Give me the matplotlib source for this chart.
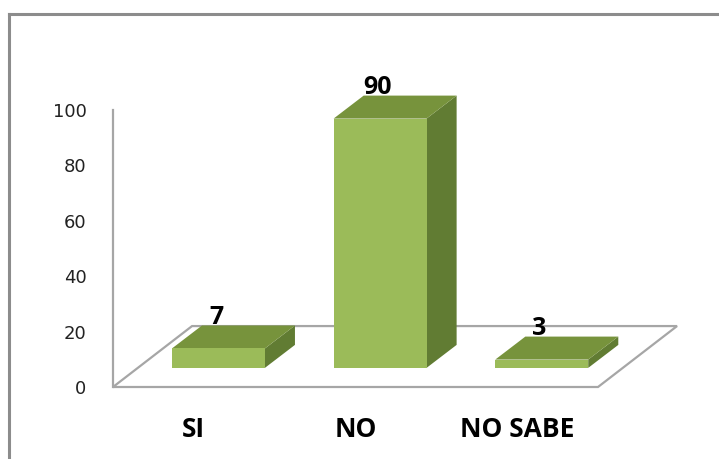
import matplotlib
matplotlib.use("Agg")
import matplotlib.pyplot as plt
from matplotlib.patches import Polygon, Rectangle
from matplotlib.lines import Line2D
import numpy as np

# --- data ---
categories = ["SI", "NO", "NO SABE"]
values = [7, 90, 3]
yticks = [0, 20, 40, 60, 80, 100]

# --- fake 3d look (offsets in data units) ---
bar_w = 0.575
front_dx, front_dy = 0.152, 6.9     # bar front face sits back from the floor edge
depth_dx, depth_dy = 0.186, 8.3     # bar depth
floor_dx, floor_dy = 0.489, 22.0    # floor depth

c_front = "#9BBB59"
c_top = "#77933C"
c_side = "#617C33"
c_grid = "#A6A6A6"
bold_font = ["Open Sans", "DejaVu Sans"]

fig = plt.figure(figsize=(7.19, 4.59), dpi=100)
fig.patch.set_facecolor("white")
ax = fig.add_axes([113 / 719, 1 - 387 / 459, 485 / 719, 277 / 459])
ax.set_xlim(-0.5, len(categories) - 0.5)
ax.set_ylim(0, 100)
ax.patch.set_alpha(0)

# floor
x0, x1 = -0.5, len(categories) - 0.5
floor = Polygon([(x0, 0), (x1, 0), (x1 + floor_dx, floor_dy), (x0 + floor_dx, floor_dy)],
                closed=True, facecolor="white", edgecolor=c_grid, lw=1.6,
                clip_on=False, zorder=1)
ax.add_patch(floor)

for i, v in enumerate(values):
    xl = i - bar_w / 2 + front_dx
    xr = i + bar_w / 2 + front_dx
    yb = front_dy
    yt = v + front_dy
    front = Rectangle((xl, yb), xr - xl, yt - yb, facecolor=c_front,
                      edgecolor="none", clip_on=False, zorder=3)
    top = Polygon([(xl, yt), (xr, yt), (xr + depth_dx, yt + depth_dy), (xl + depth_dx, yt + depth_dy)],
                  closed=True, facecolor=c_top, edgecolor="none", clip_on=False, zorder=3)
    side = Polygon([(xr, yb), (xr, yt), (xr + depth_dx, yt + depth_dy), (xr + depth_dx, yb + depth_dy)],
                   closed=True, facecolor=c_side, edgecolor="none", clip_on=False, zorder=3)
    ax.add_patch(side)
    ax.add_patch(top)
    ax.add_patch(front)
    ax.text(i + front_dx - 0.015, yt + depth_dy + 0.6, str(v), ha="center", va="baseline",
            fontsize=18, fontweight="bold", family=bold_font, color="black", zorder=5)

# axes styling
for s in ["top", "right", "bottom"]:
    ax.spines[s].set_visible(False)
ax.spines["left"].set_color(c_grid)
ax.spines["left"].set_linewidth(1.6)
ax.set_yticks(yticks)
ax.set_xticks(range(len(categories)))
ax.set_xticklabels(categories, fontsize=19, fontweight="bold", family=bold_font)
ax.tick_params(axis="y", length=0, pad=19, labelsize=13, labelcolor="#222222")
ax.tick_params(axis="x", length=0, pad=21)

# chart frame (only left and top visible in crop)
fig.add_artist(Line2D([8.5 / 719, 8.5 / 719], [0, 1 - 13.5 / 459], transform=fig.transFigure,
                      color="#8C8C8C", lw=2.2))
fig.add_artist(Line2D([8.5 / 719, 1], [1 - 13.5 / 459, 1 - 13.5 / 459], transform=fig.transFigure,
                      color="#8C8C8C", lw=2.2))

fig.savefig("out.png", dpi=100, facecolor="white")
